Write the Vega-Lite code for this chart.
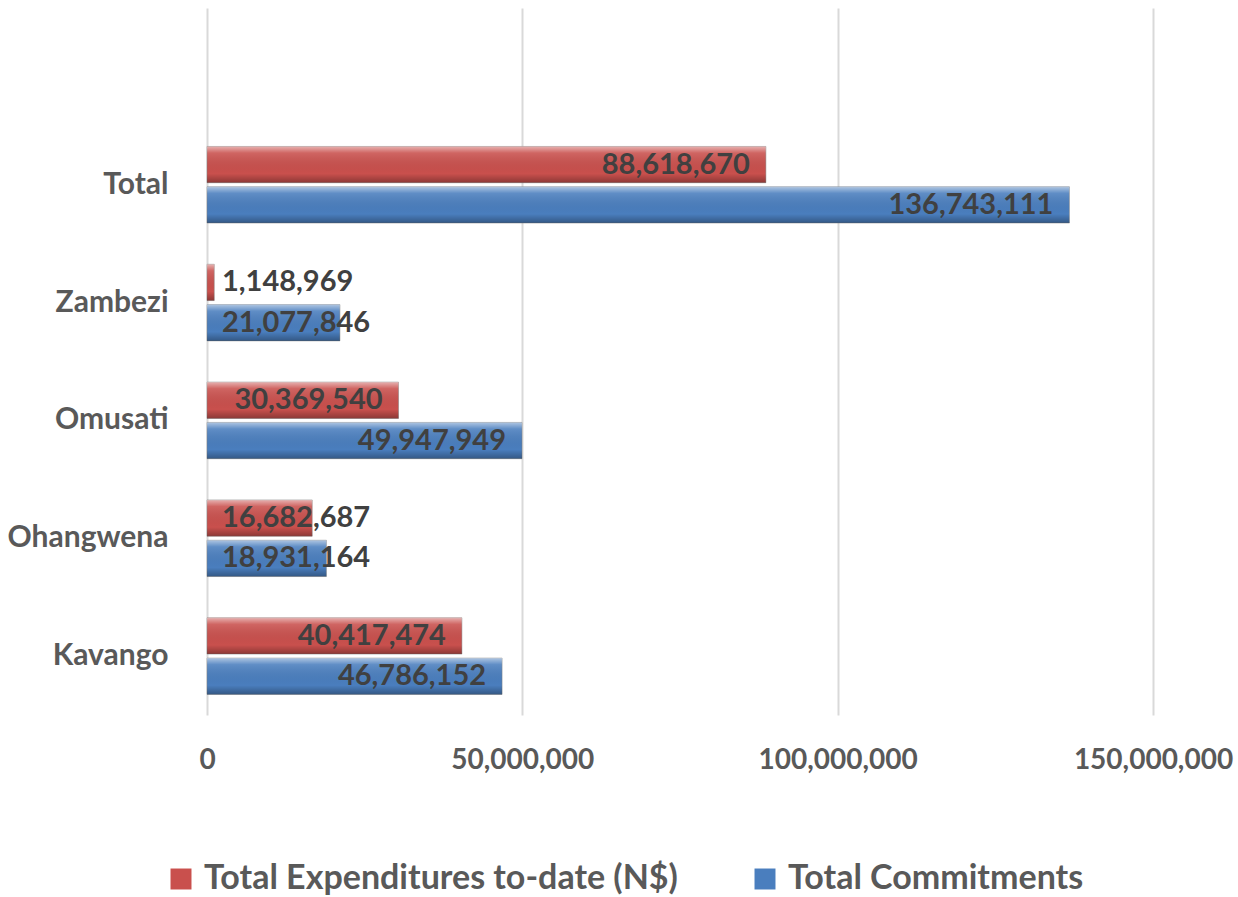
{
  "$schema": "https://vega.github.io/schema/vega-lite/v6.json",
  "autosize": "none",
  "width": 946,
  "height": 707,
  "padding": {"left": 207, "top": 8, "right": 85, "bottom": 182},
  "background": "white",
  "config": {
    "view": {"stroke": null},
    "font": "Lato"
  },
  "data": {
    "values": [
      {"region": "Total", "series": "Total Expenditures to-date (N$)", "value": 88618670},
      {"region": "Total", "series": "Total Commitments", "value": 136743111},
      {"region": "Zambezi", "series": "Total Expenditures to-date (N$)", "value": 1148969},
      {"region": "Zambezi", "series": "Total Commitments", "value": 21077846},
      {"region": "Omusati", "series": "Total Expenditures to-date (N$)", "value": 30369540},
      {"region": "Omusati", "series": "Total Commitments", "value": 49947949},
      {"region": "Ohangwena", "series": "Total Expenditures to-date (N$)", "value": 16682687},
      {"region": "Ohangwena", "series": "Total Commitments", "value": 18931164},
      {"region": "Kavango", "series": "Total Expenditures to-date (N$)", "value": 40417474},
      {"region": "Kavango", "series": "Total Commitments", "value": 46786152}
    ]
  },
  "encoding": {
    "y": {
      "field": "region",
      "type": "nominal",
      "scale": {"domain": [" ", "Total", "Zambezi", "Omusati", "Ohangwena", "Kavango"], "paddingInner": 0.35, "paddingOuter": 0.175},
      "axis": {
        "title": null,
        "domain": false,
        "ticks": false,
        "labelFont": "Lato",
        "labelFontWeight": "bold",
        "labelFontSize": 30,
        "labelColor": "#595959",
        "labelPadding": 39
      }
    },
    "yOffset": {
      "field": "series",
      "type": "nominal",
      "sort": ["Total Expenditures to-date (N$)", "Total Commitments"],
      "scale": {"paddingInner": 0.1}
    },
    "x": {
      "field": "value",
      "type": "quantitative",
      "scale": {"domain": [0, 150000000], "nice": false},
      "axis": {
        "title": null,
        "values": [0, 50000000, 100000000, 150000000],
        "format": ",.0f",
        "domain": false,
        "ticks": false,
        "grid": true,
        "gridColor": "#D9D9D9",
        "gridWidth": 2,
        "labelFont": "Lato",
        "labelFontWeight": "bold",
        "labelFontSize": 28,
        "labelColor": "#595959",
        "labelPadding": 31,
        "labelFlush": false,
        "labelLimit": 1000,
        "labelOverlap": false
      }
    }
  },
  "layer": [
    {
      "mark": {"type": "bar", "stroke": "#7f7f7f", "strokeOpacity": 0.5, "strokeWidth": 1},
      "encoding": {
        "color": {
          "field": "series",
          "type": "nominal",
          "sort": ["Total Expenditures to-date (N$)", "Total Commitments"],
          "scale": {"domain": ["Total Expenditures to-date (N$)", "Total Commitments"], "range": ["#C9504D", "#4A7EBE"]},
          "legend": {
            "title": null,
            "orient": "none",
            "legendX": -43,
            "legendY": 854,
            "direction": "horizontal",
            "symbolType": "square",
            "symbolSize": 440,
            "symbolStrokeWidth": 0,
            "labelFont": "Lato",
            "labelFontWeight": "bold",
            "labelFontSize": 34,
            "labelColor": "#595959",
            "labelOffset": 6,
            "columnPadding": 70,
            "labelLimit": 800
          }
        }
      }
    },
    {
      "mark": {
        "type": "bar",
        "fill": {
          "gradient": "linear",
          "x1": 0, "y1": 0, "x2": 0, "y2": 1,
          "stops": [
            {"offset": 0, "color": "rgba(255,255,255,0.55)"},
            {"offset": 0.18, "color": "rgba(255,255,255,0.12)"},
            {"offset": 0.75, "color": "rgba(0,0,0,0)"},
            {"offset": 1, "color": "rgba(0,0,0,0.3)"}
          ]
        }
      }
    },
    {
      "transform": [{"filter": "datum.value >= 25000000"}],
      "mark": {"type": "text", "align": "right", "baseline": "middle", "dx": -16, "font": "Lato", "fontWeight": "bold", "fontSize": 29, "color": "#404040"},
      "encoding": {
        "text": {"field": "value", "type": "quantitative", "format": ",.0f"}
      }
    },
    {
      "transform": [{"filter": "datum.value < 25000000"}],
      "mark": {"type": "text", "align": "left", "baseline": "middle", "dx": 15, "font": "Lato", "fontWeight": "bold", "fontSize": 29, "color": "#404040"},
      "encoding": {
        "x": {"datum": 0, "type": "quantitative"},
        "text": {"field": "value", "type": "quantitative", "format": ",.0f"}
      }
    }
  ]
}
